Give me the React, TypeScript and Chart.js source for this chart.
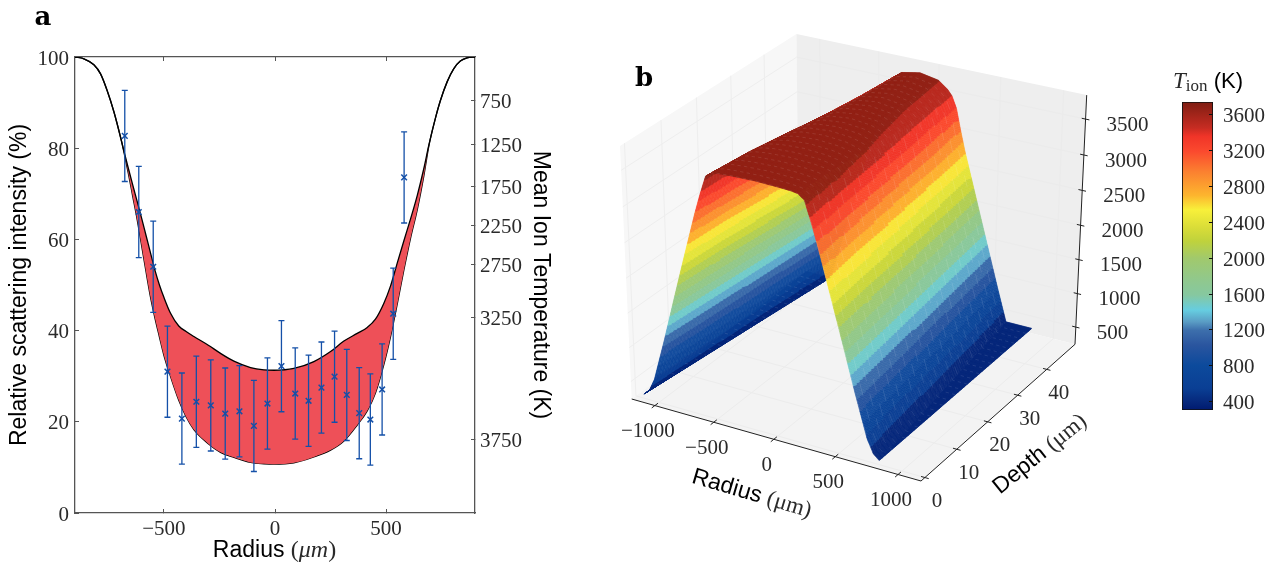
import React, { useEffect, useRef } from "react";
import { Chart, registerables } from "chart.js";

Chart.register(...registerables);

// ---------- panel a ----------
const bandRadius = [-900,-860,-815,-785,-755,-725,-695,-680,-660,-640,-620,-600,-580,-560,-540,-520,-500,-470,-433,-400,-365,-300,-245,-185,-110,-50,-5,85,175,250,310,370,415,452,490,520,550,580,610,640,670,692,722,744,775,804,834,864,900];
const bandUpper = [100,99.6,98.3,96.3,92.6,88,82.4,79.4,75.6,71.9,68.3,64.6,60.8,57,53.2,50,47.3,43.8,41,39.8,38.7,36.8,35,33.3,31.9,31.4,31.3,31.7,33.2,35.4,37.7,39.4,40.7,42.5,46,49.8,54.8,59.7,64.5,69.6,75.6,80.6,86.6,90.4,94.6,97.4,99.1,99.8,100];
const bandLower = [100,99.6,98.3,96.3,92.6,88,82.4,79.2,74.5,69.4,64.3,58.6,52.8,47.3,42.7,38.6,34.6,29.9,24.7,21.1,18.3,15.2,13.3,12.2,11.1,10.8,10.7,11,12.3,13.8,15.8,19.3,22.4,26.3,32.6,38.7,45.8,53.3,60.3,66.5,74,80.4,86.6,90.4,94.6,97.4,99.1,99.8,100];
const sampleRadius = [-676,-613,-548,-484,-419,-354,-289,-224,-160,-95,-34,29,91,151,209,268,323,379,429,482,532,581];
const sampleIntensity = [82.7,66,54,31,20.7,24.4,23.6,21.8,22.3,19.1,24,32.2,26.2,24.6,27.5,29.9,25.9,21.9,20.5,27.1,43.7,73.6];
const sampleError = [10,10,10,10,10,10,10,10,10,10,10,10,10,10,10,10,10,10,10,10,10,10];
const radiusTicks = [-500, 0, 500];
const intensityTicks = [0, 20, 40, 60, 80, 100];
const tempTickLabels = [750, 1250, 1750, 2250, 2750, 3250, 3750];
const tempTickIntensity = [90.4, 80.8, 71.6, 63, 54.6, 42.9, 16.2];

// ---------- panel b ----------
const surfaceR0 = -1130;
const surfaceR1 = 820;
const profileS = [0, 0.2, 0.3, 0.35, 0.4, 0.45, 0.5, 0.6, 0.7, 0.8, 0.9, 0.95, 1.0, 2.0];
const profileNear = [3740, 3730, 3720, 3705, 3640, 3380, 3093, 2465, 1827, 1178, 566, 378, 300, 300];
const profileFar = [3650, 3600, 3500, 3420, 3260, 2962, 2687, 2208, 1729, 1251, 774, 544, 314, 310];
const depthKnots = [0, 10, 20, 30, 40, 50];
const farWeight = [0, 0.12, 0.35, 0.62, 0.85, 1];
const halfWidthNear = 975;
const halfWidthFar = 760;
const ridgeCentre = -155;
const r3Ticks = [-1000, -500, 0, 500, 1000];
const d3Ticks = [0, 10, 20, 30, 40];
const z3Ticks = [500, 1000, 1500, 2000, 2500, 3000, 3500];

const cmapT = [307, 400, 550, 806, 1030, 1197, 1290, 1420, 1590, 1740, 2000, 2190, 2335, 2540, 2700, 2966, 3190, 3360, 3455, 3742];
const cmapColor = ["#001a70","#06287c","#0a3f94","#0c4a9c","#2a559f","#3d6fac","#5a9cc4","#66cde0","#86c8a0","#8fc88f","#a1c96c","#bfd23c","#d8dc38","#f8f03a","#fdb52e","#fb8030","#fb4a2e","#f03428","#c62c22","#7f1d12"];
const colorbarTicks = [400, 800, 1200, 1600, 2000, 2400, 2800, 3200, 3600];
const CBAR_MIN = 307;
const CBAR_MAX = 3742;
const BAND_LEVELS = 22;

const SERIF = '"Liberation Serif", serif';
const SANS = '"Liberation Sans", Arial, sans-serif';
const INK = "#2a2a2a";
const SPINE = "#555555";

function lerp(xs: number[], ys: number[], x: number) {
  if (x <= xs[0]) return ys[0];
  for (let i = 1; i < xs.length; i++) {
    if (x <= xs[i]) {
      const t = (x - xs[i - 1]) / (xs[i] - xs[i - 1]);
      return ys[i - 1] + (ys[i] - ys[i - 1]) * t;
    }
  }
  return ys[ys.length - 1];
}

function surfaceT(r: number, d: number) {
  const f = d / 50;
  const hw = halfWidthNear + (halfWidthFar - halfWidthNear) * f;
  const s = Math.abs(r - ridgeCentre) / hw;
  const w = lerp(depthKnots, farWeight, d);
  return lerp(profileS, profileNear, s) * (1 - w) + lerp(profileS, profileFar, s) * w;
}

function hexToRgb(h: string) {
  return [parseInt(h.slice(1, 3), 16), parseInt(h.slice(3, 5), 16), parseInt(h.slice(5, 7), 16)];
}

function cmap(T: number) {
  const a = hexToRgb(cmapColor[0]);
  for (let i = 1; i < cmapT.length; i++) {
    if (T <= cmapT[i] || i === cmapT.length - 1) {
      const t = Math.max(0, Math.min(1, (T - cmapT[i - 1]) / (cmapT[i] - cmapT[i - 1])));
      const c0 = hexToRgb(cmapColor[i - 1]);
      const c1 = hexToRgb(cmapColor[i]);
      return `rgb(${Math.round(c0[0] + (c1[0] - c0[0]) * t)},${Math.round(c0[1] + (c1[1] - c0[1]) * t)},${Math.round(c0[2] + (c1[2] - c0[2]) * t)})`;
    }
  }
  return `rgb(${a.join(",")})`;
}

function bandColor(T: number) {
  const step = (CBAR_MAX - CBAR_MIN) / BAND_LEVELS;
  const k = Math.max(0, Math.min(BAND_LEVELS - 1, Math.floor((T - CBAR_MIN) / step)));
  return cmap(CBAR_MIN + (k + 0.5) * step);
}

// Perspective camera of the 3-D box, fitted to the box corners
const R_MIN = -1200, R_MAX = 1180, D_MIN = -1.2, D_MAX = 50, Z_MIN = 240, Z_MAX = 3830;
const camera = (() => {
  const F = [921, 481], L = [631.7, 399], B = [799, 274.5], Rr = [1075, 344.3], Lt = [620, 145], Rt = [1086.7, 96];
  const dx1 = L[0] - B[0], dx2 = Rr[0] - B[0], sx = F[0] - L[0] + B[0] - Rr[0];
  const dy1 = L[1] - B[1], dy2 = Rr[1] - B[1], sy = F[1] - L[1] + B[1] - Rr[1];
  const den = dx1 * dy2 - dx2 * dy1;
  const g1 = (sx * dy2 - dx2 * sy) / den;
  const g2 = (dx1 * sy - sx * dy1) / den;
  const a1x = L[0] - F[0] + g1 * L[0], a1y = L[1] - F[1] + g1 * L[1];
  const a2x = Rr[0] - F[0] + g2 * Rr[0], a2y = Rr[1] - F[1] + g2 * Rr[1];
  const c1 = Lt[0] * (1 + g1) - (F[0] + a1x);
  const c2 = Rt[0] * (1 + g2) - (F[0] + a2x);
  const g3 = (c1 - c2) / (Rt[0] - Lt[0]);
  const a3x = c1 + Lt[0] * g3;
  const a3y = (Lt[1] * (1 + g1 + g3) - (F[1] + a1y) + Rt[1] * (1 + g2 + g3) - (F[1] + a2y)) / 2;
  return { F, g1, g2, g3, a1x, a1y, a2x, a2y, a3x, a3y };
})();

function project(r: number, d: number, z: number) {
  const u = (R_MAX - r) / (R_MAX - R_MIN);
  const v = (d - D_MIN) / (D_MAX - D_MIN);
  const w = (z - Z_MIN) / (Z_MAX - Z_MIN);
  const c = camera;
  const h = 1 + c.g1 * u + c.g2 * v + c.g3 * w;
  return {
    x: (c.F[0] + c.a1x * u + c.a2x * v + c.a3x * w) / h,
    y: (c.F[1] + c.a1y * u + c.a2y * v + c.a3y * w) / h,
    h,
  };
}

function buildFacets() {
  const NR = 600, ND = 50;
  const out: any[] = [];
  for (let i = 0; i < NR; i++) {
    const r0 = surfaceR0 + ((surfaceR1 - surfaceR0) * i) / NR;
    const r1 = surfaceR0 + ((surfaceR1 - surfaceR0) * (i + 1)) / NR;
    for (let j = 0; j < ND; j++) {
      const d0 = (50 * j) / ND;
      const d1 = (50 * (j + 1)) / ND;
      const ts = [surfaceT(r0, d0), surfaceT(r1, d0), surfaceT(r1, d1), surfaceT(r0, d1)];
      const ps = [project(r0, d0, ts[0]), project(r1, d0, ts[1]), project(r1, d1, ts[2]), project(r0, d1, ts[3])];
      const T = (ts[0] + ts[1] + ts[2] + ts[3]) / 4;
      out.push({
        x: (ps[0].x + ps[2].x) / 2,
        y: (ps[0].y + ps[2].y) / 2,
        h: (ps[0].h + ps[1].h + ps[2].h + ps[3].h) / 4,
        corners: ps,
        T,
        mark: j % 2 === 0 && (Math.floor(i / 8) + j / 2) % 2 === 0,
      });
    }
  }
  out.sort((a, b) => b.h - a.h);
  return out;
}

type Run = { t: string; font: string; dy?: number; color?: string };
function drawRuns(ctx: CanvasRenderingContext2D, runs: Run[], x: number, y: number, angle = 0) {
  ctx.save();
  ctx.translate(x, y);
  ctx.rotate(angle);
  ctx.textBaseline = "alphabetic";
  ctx.textAlign = "left";
  let total = 0;
  for (const r of runs) {
    ctx.font = r.font;
    total += ctx.measureText(r.t).width;
  }
  let cx = -total / 2;
  for (const r of runs) {
    ctx.font = r.font;
    ctx.fillStyle = r.color || "#000";
    ctx.fillText(r.t, cx, r.dy || 0);
    cx += ctx.measureText(r.t).width;
  }
  ctx.restore();
}

const minus = (v: number) => String(v).replace("-", "\u2212");

const panelAPlugin = {
  id: "panelA",
  afterDatasetsDraw(chart: any) {
    const { ctx, scales } = chart;
    const x = scales.x, y = scales.y;
    ctx.save();
    ctx.strokeStyle = "#1450a8";
    ctx.lineWidth = 1.3;
    sampleRadius.forEach((r, i) => {
      const px = x.getPixelForValue(r);
      const top = y.getPixelForValue(sampleIntensity[i] + sampleError[i]);
      const bot = y.getPixelForValue(sampleIntensity[i] - sampleError[i]);
      ctx.beginPath();
      ctx.moveTo(px, top);
      ctx.lineTo(px, bot);
      ctx.moveTo(px - 3, top);
      ctx.lineTo(px + 3, top);
      ctx.moveTo(px - 3, bot);
      ctx.lineTo(px + 3, bot);
      ctx.stroke();
    });
    ctx.restore();
  },
  afterDraw(chart: any) {
    const { ctx } = chart;
    drawRuns(ctx, [
      { t: "Radius ", font: `23px ${SANS}` },
      { t: "(", font: `24px ${SERIF}`, color: INK },
      { t: "\u03bcm", font: `italic 24px ${SERIF}`, color: INK },
      { t: ")", font: `24px ${SERIF}`, color: INK },
    ], 274.5, 556.5);
    drawRuns(ctx, [{ t: "a", font: `bold 26px "DejaVu Serif", serif` }], 43, 25);
  },
};

const B_LEFT = 600;
const panelBPlugin = {
  id: "panelB",
  beforeDatasetsDraw(chart: any) {
    const { ctx, scales } = chart;
    const X = (p: { x: number }) => scales.x.getPixelForValue(p.x);
    const Y = (p: { y: number }) => scales.y.getPixelForValue(p.y);
    const poly = (pts: any[], fill: string) => {
      ctx.beginPath();
      pts.forEach((p, i) => (i ? ctx.lineTo(X(p), Y(p)) : ctx.moveTo(X(p), Y(p))));
      ctx.closePath();
      ctx.fillStyle = fill;
      ctx.fill();
    };
    const seg = (a: any, b: any, color: string, w: number) => {
      ctx.beginPath();
      ctx.moveTo(X(a), Y(a));
      ctx.lineTo(X(b), Y(b));
      ctx.strokeStyle = color;
      ctx.lineWidth = w;
      ctx.stroke();
    };
    ctx.save();
    // panes
    poly([project(R_MIN, D_MIN, Z_MIN), project(R_MIN, D_MAX, Z_MIN), project(R_MIN, D_MAX, Z_MAX), project(R_MIN, D_MIN, Z_MAX)], "#f7f7f7");
    poly([project(R_MIN, D_MAX, Z_MIN), project(R_MAX, D_MAX, Z_MIN), project(R_MAX, D_MAX, Z_MAX), project(R_MIN, D_MAX, Z_MAX)], "#eeeeee");
    poly([project(R_MIN, D_MIN, Z_MIN), project(R_MAX, D_MIN, Z_MIN), project(R_MAX, D_MAX, Z_MIN), project(R_MIN, D_MAX, Z_MIN)], "#f3f3f3");
    // grid
    r3Ticks.forEach((r) => {
      seg(project(r, D_MIN, Z_MIN), project(r, D_MAX, Z_MIN), "#ececec", 1);
      seg(project(r, D_MAX, Z_MIN), project(r, D_MAX, Z_MAX), "#ebebeb", 1);
    });
    d3Ticks.forEach((d) => {
      seg(project(R_MAX, d, Z_MIN), project(R_MIN, d, Z_MIN), "#ececec", 1);
      seg(project(R_MIN, d, Z_MIN), project(R_MIN, d, Z_MAX), "#eeeeee", 1);
    });
    z3Ticks.forEach((z) => {
      seg(project(R_MIN, D_MIN, z), project(R_MIN, D_MAX, z), "#eeeeee", 1);
      seg(project(R_MIN, D_MAX, z), project(R_MAX, D_MAX, z), "#ebebeb", 1);
    });
    // axes
    seg(project(R_MIN, D_MIN, Z_MIN), project(R_MAX, D_MIN, Z_MIN), "#222", 1);
    seg(project(R_MAX, D_MIN, Z_MIN), project(R_MAX, D_MAX, Z_MIN), "#222", 1);
    seg(project(R_MAX, D_MAX, Z_MIN), project(R_MAX, D_MAX, Z_MAX), "#222", 1);
    ctx.font = `21px ${SERIF}`;
    ctx.fillStyle = INK;
    ctx.textBaseline = "middle";
    ctx.textAlign = "center";
    r3Ticks.forEach((r) => {
      seg(project(r, D_MIN - 0.9, Z_MIN), project(r, D_MIN + 0.9, Z_MIN), "#222", 1);
      const p = project(r, D_MIN, Z_MIN);
      ctx.fillText(minus(r), X(p) - 7, Y(p) + 26);
    });
    d3Ticks.forEach((d) => {
      seg(project(R_MAX + 30, d, Z_MIN), project(R_MAX - 30, d, Z_MIN), "#222", 1);
      const p = project(R_MAX, d, Z_MIN);
      ctx.fillText(String(d), X(p) + 12, Y(p) + 24);
    });
    ctx.textAlign = "left";
    z3Ticks.forEach((z) => {
      seg(project(R_MAX + 30, D_MAX, z), project(R_MAX - 30, D_MAX, z), "#222", 1);
      const p = project(R_MAX, D_MAX, z);
      ctx.fillText(String(z), X(p) + 21, Y(p) + 6);
    });
    // surface
    const facets = chart.data.datasets[0].data;
    ctx.lineJoin = "round";
    for (const f of facets) {
      const c = f.corners;
      const col = bandColor(f.T);
      ctx.beginPath();
      ctx.moveTo(X(c[0]), Y(c[0]));
      ctx.lineTo(X(c[1]), Y(c[1]));
      ctx.lineTo(X(c[2]), Y(c[2]));
      ctx.lineTo(X(c[3]), Y(c[3]));
      ctx.closePath();
      ctx.fillStyle = col;
      ctx.strokeStyle = col;
      ctx.lineWidth = 0.6;
      ctx.fill();
      ctx.stroke();
    }
    // faint facet edges, drawn after the facets they belong to, only where that facet faces the camera
    ctx.strokeStyle = "rgba(255,255,255,0.16)";
    ctx.lineWidth = 0.7;
    for (const f of facets) {
      if (!f.mark) continue;
      const c = f.corners;
      const ax = X(c[1]) - X(c[0]), ay = Y(c[1]) - Y(c[0]);
      const bx = X(c[3]) - X(c[0]), by = Y(c[3]) - Y(c[0]);
      if (ax * by - ay * bx > 0) continue;
      ctx.beginPath();
      ctx.moveTo(X(c[0]), Y(c[0]));
      ctx.lineTo(X(c[1]), Y(c[1]));
      ctx.stroke();
    }
    ctx.restore();
  },
  afterDraw(chart: any) {
    const { ctx } = chart;
    drawRuns(ctx, [
      { t: "Radius ", font: `23px ${SANS}` },
      { t: "(\u03bcm)", font: `23px ${SERIF}`, color: INK },
    ], 750 - B_LEFT, 500, (16.5 * Math.PI) / 180);
    drawRuns(ctx, [
      { t: "Depth ", font: `23px ${SANS}` },
      { t: "(\u03bcm)", font: `23px ${SERIF}`, color: INK },
    ], 1044 - B_LEFT, 459, (-39 * Math.PI) / 180);
    drawRuns(ctx, [{ t: "b", font: `bold 26px "DejaVu Serif", serif` }], 644 - B_LEFT, 86);
  },
};

const C_LEFT = 1160;
const colorbarPlugin = {
  id: "colorbarTitle",
  afterDraw(chart: any) {
    drawRuns(chart.ctx, [
      { t: "T", font: `italic 23px ${SERIF}`, color: INK },
      { t: "ion", font: `17px ${SERIF}`, color: INK, dy: 3 },
      { t: " (K)", font: `22px ${SANS}` },
    ], 1208 - C_LEFT, 88);
  },
};

const W_A = 600, W_B = 570, W_C = 112;

export default function App() {
  const aRef = useRef<HTMLCanvasElement>(null);
  const bRef = useRef<HTMLCanvasElement>(null);
  const cRef = useRef<HTMLCanvasElement>(null);

  useEffect(() => {
    document.body.style.margin = "0";
    const tickFont = { family: SERIF, size: 21 };
    const baseGrid = { drawOnChartArea: false, tickLength: -4, color: SPINE, tickWidth: 1 };
    const border = { color: SPINE, width: 1.3 };

    const chartA = new Chart(aRef.current as HTMLCanvasElement, {
      type: "line",
      data: {
        datasets: [
          {
            label: "Upper",
            data: bandRadius.map((x, i) => ({ x, y: bandUpper[i] })),
            borderColor: "#000",
            borderWidth: 1.3,
            pointRadius: 0,
            cubicInterpolationMode: "monotone",
            backgroundColor: "#ee5058",
            fill: "+1",
            order: 2,
          },
          {
            label: "Lower",
            data: bandRadius.map((x, i) => ({ x, y: bandLower[i] })),
            borderColor: "#000",
            borderWidth: 1.3,
            pointRadius: 0,
            cubicInterpolationMode: "monotone",
            fill: false,
            order: 2,
          },
          {
            label: "Samples",
            data: sampleRadius.map((x, i) => ({ x, y: sampleIntensity[i] })),
            showLine: false,
            pointStyle: "crossRot",
            pointRadius: 4,
            pointBorderWidth: 1.5,
            borderColor: "#1450a8",
            pointBorderColor: "#1450a8",
            order: 1,
          },
        ],
      } as any,
      options: {
        animation: false,
        responsive: false,
        layout: { padding: 0 },
        plugins: { legend: { display: false }, tooltip: { enabled: false } },
        scales: {
          x: {
            type: "linear",
            position: "bottom",
            min: -900,
            max: 900,
            afterBuildTicks: (s: any) => { s.ticks = radiusTicks.map((value) => ({ value })); },
            afterFit: (s: any) => { s.height = 52; },
            ticks: { font: tickFont, color: INK, padding: 8, maxRotation: 0, autoSkip: false, callback: (v: any) => minus(v) },
            grid: baseGrid,
            border,
          },
          xTop: {
            type: "linear",
            position: "top",
            min: -900,
            max: 900,
            afterBuildTicks: (s: any) => { s.ticks = radiusTicks.map((value) => ({ value })); },
            afterFit: (s: any) => { s.height = 57; },
            ticks: { display: false },
            grid: baseGrid,
            border,
          },
          y: {
            type: "linear",
            position: "left",
            min: 0,
            max: 100,
            afterBuildTicks: (s: any) => { s.ticks = intensityTicks.map((value) => ({ value })); },
            afterFit: (s: any) => { s.width = 75; },
            ticks: { font: tickFont, color: INK, padding: 10, labelOffset: 2 },
            grid: baseGrid,
            border,
            title: { display: true, text: "Relative scattering intensity (%)", color: "#000", font: { family: SANS, size: 23 }, padding: { top: 6, bottom: 0 } },
          },
          yRight: {
            type: "linear",
            position: "right",
            min: 0,
            max: 100,
            afterBuildTicks: (s: any) => { s.ticks = tempTickIntensity.map((value) => ({ value })); },
            afterFit: (s: any) => { s.width = 125; },
            ticks: {
              font: tickFont,
              color: INK,
              padding: 9,
              labelOffset: 2,
              autoSkip: false,
              callback: (v: any) => {
                const i = tempTickIntensity.indexOf(v);
                return i >= 0 ? String(tempTickLabels[i]) : "";
              },
            },
            grid: baseGrid,
            border,
            title: { display: true, text: "Mean Ion Temperature (K)", color: "#000", font: { family: SANS, size: 23 }, padding: { top: 46, bottom: 0 } },
          },
        },
      } as any,
      plugins: [panelAPlugin],
    });

    const chartB = new Chart(bRef.current as HTMLCanvasElement, {
      type: "scatter",
      data: { datasets: [{ label: "Tion surface", data: buildFacets(), pointRadius: 0 }] } as any,
      options: {
        animation: false,
        responsive: false,
        layout: { padding: 0 },
        plugins: { legend: { display: false }, tooltip: { enabled: false } },
        scales: {
          x: { type: "linear", min: B_LEFT, max: B_LEFT + W_B, display: false, offset: false },
          y: { type: "linear", min: 0, max: 565, reverse: true, display: false },
        },
      } as any,
      plugins: [panelBPlugin],
    });

    const chartC = new Chart(cRef.current as HTMLCanvasElement, {
      type: "bar",
      data: {
        labels: ["Tion"],
        datasets: [
          {
            data: [[CBAR_MIN, CBAR_MAX]],
            barPercentage: 1,
            categoryPercentage: 1,
            borderColor: "#111",
            borderWidth: 1.2,
            borderSkipped: false,
            backgroundColor: (ctx: any) => {
              const area = ctx.chart.chartArea;
              if (!area) return "#888";
              const g = ctx.chart.ctx.createLinearGradient(0, area.bottom, 0, area.top);
              cmapT.forEach((t, i) => g.addColorStop((t - CBAR_MIN) / (CBAR_MAX - CBAR_MIN), cmapColor[i]));
              return g;
            },
          },
        ],
      } as any,
      options: {
        animation: false,
        responsive: false,
        layout: { padding: { left: 22, top: 102, bottom: 155, right: 0 } },
        plugins: { legend: { display: false }, tooltip: { enabled: false } },
        scales: {
          x: { display: false },
          y: {
            type: "linear",
            position: "right",
            min: CBAR_MIN,
            max: CBAR_MAX,
            afterBuildTicks: (s: any) => { s.ticks = colorbarTicks.map((value) => ({ value })); },
            afterFit: (s: any) => { s.width = 59; },
            ticks: { font: tickFont, color: INK, padding: 14, labelOffset: 2, callback: (v: any) => String(v) },
            grid: { drawOnChartArea: false, tickLength: -4, color: "#111", z: 1 },
            border: { display: false },
          },
        },
      } as any,
      plugins: [colorbarPlugin],
    });

    return () => {
      chartA.destroy();
      chartB.destroy();
      chartC.destroy();
    };
  }, []);

  const abs = (left: number, width: number): React.CSSProperties => ({ position: "absolute", left, top: 0, width, height: 565 });
  return (
    <div style={{ position: "absolute", left: 0, top: 0, width: 1272, height: 565, background: "#fff", overflow: "hidden" }}>
      <canvas ref={bRef} width={W_B} height={565} style={abs(B_LEFT, W_B)} />
      <canvas ref={aRef} width={W_A} height={565} style={abs(0, W_A)} />
      <canvas ref={cRef} width={W_C} height={565} style={abs(C_LEFT, W_C)} />
    </div>
  );
}
